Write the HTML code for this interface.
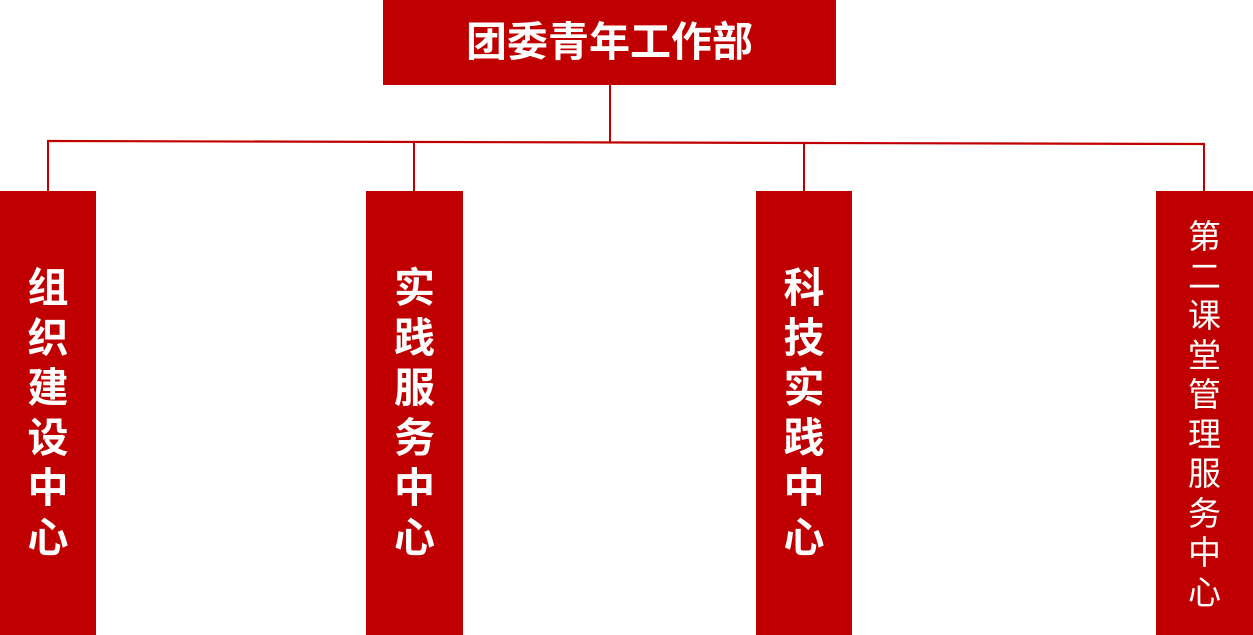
<!DOCTYPE html>
<html><head><meta charset="utf-8"><style>
body{margin:0;width:1253px;height:635px;background:#fff;position:relative;overflow:hidden;font-family:"Liberation Sans","Noto Sans CJK SC",sans-serif;}
.b{position:absolute;background:#c00000;color:#fff;}
.l{position:absolute;background:#c00000;}
.v{position:absolute;width:100%;text-align:center;font-weight:bold;}
</style></head><body>
<div class="b" style="left:383px;top:0;width:453px;height:85px;font-size:41px;font-weight:bold;line-height:85px;text-align:center;">团委青年工作部</div>
<div class="l" style="left:609px;top:85px;width:2px;height:57px"></div>
<svg style="position:absolute;left:0;top:0" width="1253" height="200"><line x1="47" y1="141" x2="1205" y2="144" stroke="#c00000" stroke-width="2.2"/></svg>
<div class="l" style="left:47px;top:141px;width:2px;height:50px"></div>
<div class="l" style="left:413px;top:142px;width:2px;height:49px"></div>
<div class="l" style="left:803px;top:143px;width:2px;height:48px"></div>
<div class="l" style="left:1203px;top:144px;width:2px;height:47px"></div>
<div class="b" style="left:0;top:191px;width:96px;height:444px"><div class="v" style="top:72px;font-size:41px;line-height:50px">组<br>织<br>建<br>设<br>中<br>心</div></div>
<div class="b" style="left:366px;top:191px;width:97px;height:444px"><div class="v" style="top:72px;font-size:41px;line-height:50px">实<br>践<br>服<br>务<br>中<br>心</div></div>
<div class="b" style="left:756px;top:191px;width:96px;height:444px"><div class="v" style="top:72px;font-size:41px;line-height:50px">科<br>技<br>实<br>践<br>中<br>心</div></div>
<div class="b" style="left:1156px;top:191px;width:97px;height:444px"><div class="v" style="top:26px;font-size:33px;line-height:39.5px;font-weight:normal">第<br>二<br>课<br>堂<br>管<br>理<br>服<br>务<br>中<br>心</div></div>
</body></html>
